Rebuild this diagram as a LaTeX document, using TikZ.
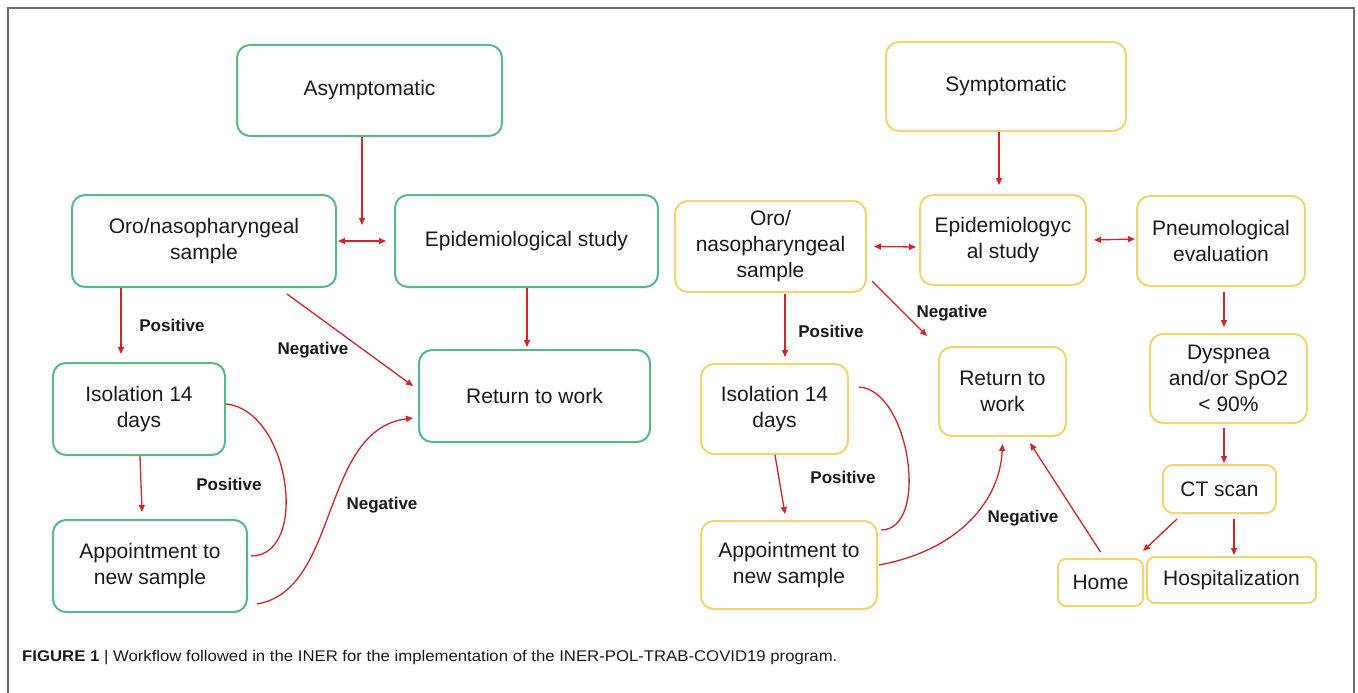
\documentclass[tikz,border=0pt]{standalone}
\usepackage{fontspec}
\setmainfont{Liberation Sans}
\newfontfamily\capfont[FakeStretch=1.08]{Liberation Sans}
\usetikzlibrary{arrows.meta}
\definecolor{gbox}{RGB}{88,184,138}
\definecolor{ybox}{RGB}{244,212,108}
\definecolor{arr}{RGB}{212,36,36}
\definecolor{txt}{RGB}{26,26,26}
\definecolor{frm}{RGB}{110,110,110}
\begin{document}
\begin{tikzpicture}[x=1pt,y=-1pt,
 box/.style={draw, rounded corners=13pt, line width=2pt, text=txt, align=center, font=\fontsize{21}{26}\selectfont, inner sep=0pt},
 gb/.style={box, draw=gbox},
 yb/.style={box, draw=ybox},
 tip/.style={-{Triangle[length=7pt,width=6pt]}},
 ar/.style={draw=arr, line width=1.3pt, tip},
 dar/.style={draw=arr, line width=1.3pt, {Triangle[length=7pt,width=6pt]}-{Triangle[length=7pt,width=6pt]}},
 ln/.style={draw=arr, line width=1.3pt},
 lab/.style={font=\bfseries\fontsize{17}{20}\selectfont, text=txt}
]
\useasboundingbox (0,0) rectangle (1358,693);
\draw[frm, line width=2pt] (8,720) -- (8,8) -- (1354,8) -- (1354,720);

% left (green)
\node[gb, minimum width=265pt, minimum height=91pt] (asym) at (369.5,90.5) {Asymptomatic};
\node[gb, minimum width=264pt, minimum height=92pt] (oroL) at (204,241) {Oro/nasopharyngeal\\sample};
\node[gb, minimum width=263pt, minimum height=92pt] (epiL) at (526.5,241) {Epidemiological study};
\node[gb, minimum width=231pt, minimum height=92pt] (retL) at (534.5,396) {Return to work};
\node[gb, minimum width=172pt, minimum height=92pt] (isoL) at (139,409) {Isolation 14\\days};
\node[gb, minimum width=194pt, minimum height=92pt] (appL) at (150,566) {Appointment to\\new sample};

% right (yellow)
\node[yb, minimum width=240pt, minimum height=89pt] (sym) at (1006,86.5) {Symptomatic};
\node[yb, minimum width=191pt, minimum height=91pt] (oroR) at (770.5,246.5) {Oro/\\nasopharyngeal\\sample};
\node[yb, minimum width=166pt, minimum height=90pt] (epiR) at (1003,240) {Epidemiologyc\\al study};
\node[yb, minimum width=168pt, minimum height=90pt] (pneR) at (1221,241) {Pneumological\\evaluation};
\node[yb, minimum width=157pt, minimum height=89pt] (dysR) at (1228.5,378.5) {Dyspnea\\and/or SpO2\\< 90\%};
\node[yb, minimum width=127pt, minimum height=89pt] (retR) at (1002.5,391.5) {Return to\\work};
\node[yb, minimum width=147pt, minimum height=90pt] (isoR) at (774.5,409) {Isolation 14\\days};
\node[yb, minimum width=176pt, minimum height=88pt] (appR) at (789,565) {Appointment to\\new sample};
\node[yb, minimum width=113pt, minimum height=48pt, rounded corners=10pt] (ctR) at (1219.5,489) {CT scan};
\node[yb, minimum width=85pt, minimum height=47pt, rounded corners=8pt] (homeR) at (1100.5,582.5) {Home};
\node[yb, minimum width=169pt, minimum height=46pt, rounded corners=8pt] (hospR) at (1231.5,580) {Hospitalization};

% left connectors
\coordinate (asymEnd) at (362,225);
\draw[ar] ([xshift=-7.5pt]asym.south) -- (asymEnd);
\draw[dar] ([xshift=1pt]oroL.east) -- ([xshift=-8pt]epiL.west);
\draw[ar] ([xshift=-83pt]oroL.south) -- ([xshift=-18pt,yshift=8pt]isoL.north);
\draw[ar] ([xshift=83pt,yshift=-6pt]oroL.south) -- ([xshift=-5pt,yshift=10pt]retL.west);
\draw[ar] ([xshift=0.5pt]epiL.south) -- ([xshift=-7.5pt,yshift=2pt]retL.north);
\draw[ar] ([xshift=1pt]isoL.south) -- ([xshift=-8pt,yshift=7pt]appL.north);
\draw[ln] ([yshift=5pt]isoL.east) .. controls (290,410) and (310,556) .. ([xshift=3pt,yshift=10pt]appL.east);
\draw[ar] ([xshift=9pt,yshift=-38pt]appL.east) .. controls (340,590) and (320,430) .. ([xshift=-5pt,yshift=-22pt]retL.west);
\node[lab] (lpL1) at (172,325) {Positive};
\node[lab] (lnL1) at (313,350) {Negative};
\node[lab] (lpL2) at (229,484) {Positive};
\node[lab] (lnL2) at (382,505) {Negative};

% right connectors
\draw[ar] ([xshift=-7pt]sym.south) -- ([xshift=-4pt,yshift=9pt]epiR.north);
\draw[dar] ([xshift=7pt]oroR.east) -- ([xshift=-3pt,yshift=-7pt]epiR.west);
\draw[dar] ([xshift=7pt]epiR.east) -- ([xshift=-1pt,yshift=2pt]pneR.west);
\draw[ar] ([xshift=3pt,yshift=-5pt]pneR.south) -- ([xshift=-4.5pt,yshift=6pt]dysR.north);
\draw[ar] ([xshift=14.5pt,yshift=-1pt]oroR.south) -- ([xshift=10.5pt,yshift=6pt]isoR.north);
\draw[ar] ([xshift=5pt,yshift=12pt]oroR.south east) -- ([xshift=-11pt,yshift=10pt]retR.north west);
\draw[ar] ([xshift=0.5pt]isoR.south) -- ([xshift=-4pt,yshift=6pt]appR.north);
\draw[ln] ([xshift=10pt,yshift=22pt]isoR.east) .. controls (910,390) and (930,530) .. ([xshift=3pt,yshift=35pt]appR.east);
\draw[ar] ([xshift=1pt]appR.east) .. controls (960,550) and (1000,500) .. ([yshift=-7pt]retR.south);
\draw[ar] ([yshift=6pt]homeR.north) -- ([xshift=27.5pt,yshift=-6pt]retR.south);
\draw[ar] ([xshift=-4.5pt,yshift=-4pt]dysR.south) -- ([xshift=4.5pt,yshift=1pt]ctR.north);
\draw[ar] ([xshift=-42.5pt,yshift=-5pt]ctR.south) -- ([xshift=-1pt,yshift=7pt]homeR.north east);
\draw[ar] ([xshift=14.5pt,yshift=-5pt]ctR.south) -- ([xshift=2.5pt,yshift=1pt]hospR.north);
\node[lab] (lpR1) at (831,331) {Positive};
\node[lab] (lnR1) at (952,313) {Negative};
\node[lab] (lpR2) at (843,477) {Positive};
\node[lab] (lnR2) at (1023,518) {Negative};

% caption
\node[anchor=west, text=txt, font=\capfont\fontsize{15.5}{18}\selectfont, inner sep=0pt] (cap) at (22,658) {\textbf{FIGURE 1} | Workflow followed in the INER for the implementation of the INER-POL-TRAB-COVID19 program.};
\end{tikzpicture}
\end{document}
